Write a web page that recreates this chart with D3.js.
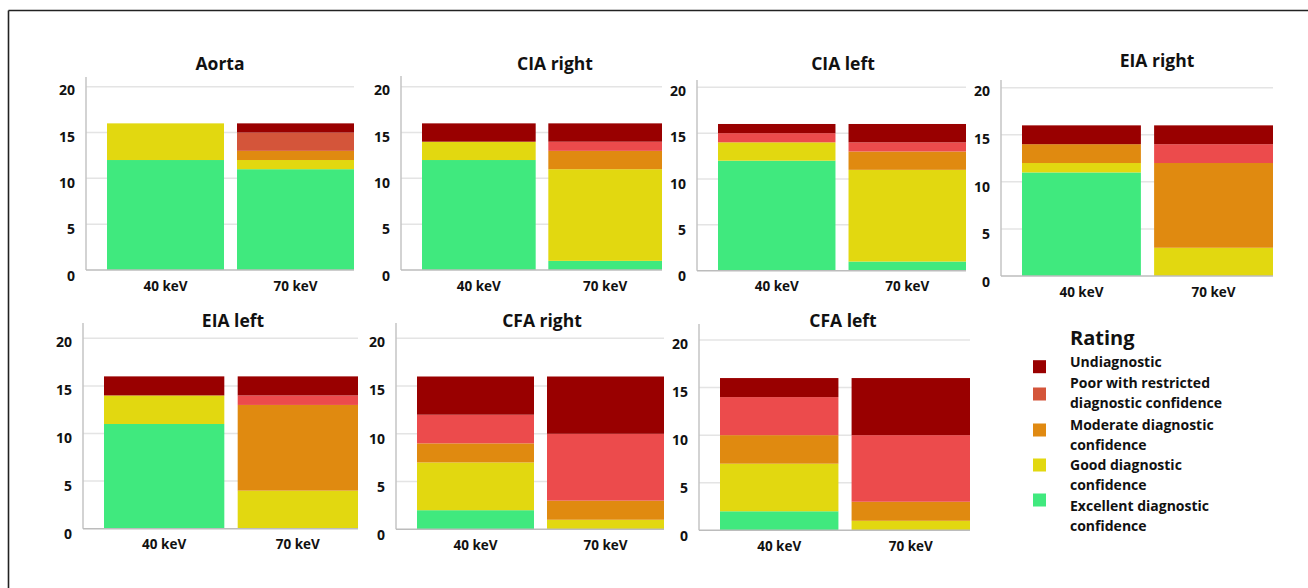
<!DOCTYPE html>
<html>
<head>
<meta charset="utf-8">
<script src="https://cdn.jsdelivr.net/npm/d3@7"></script>
<style>
  body { margin: 0; background: #fff; }
  svg text { font-family: "Open Sans", "Noto Sans", sans-serif; font-weight: 700; fill: #111; }
</style>
</head>
<body>
<svg id="chart" width="1308" height="588"></svg>
<script>
// data: counts per rating, [40 keV, 70 keV] for every vessel
const vessels = ["Aorta", "CIA right", "CIA left", "EIA right", "EIA left", "CFA right", "CFA left"];
const energies = ["40 keV", "70 keV"];
const ratings = ["Excellent", "Good", "Moderate", "Poor", "Undiagnostic"];
const excellent    = [[12, 11], [12, 1], [12, 1], [11, 0], [11, 0], [2, 0], [2, 0]];
const good         = [[4, 1], [2, 10], [2, 10], [1, 3], [3, 4], [5, 1], [5, 1]];
const moderate     = [[0, 1], [0, 2], [0, 2], [2, 9], [0, 9], [2, 2], [3, 2]];
const poor         = [[0, 2], [0, 1], [1, 1], [0, 2], [0, 1], [3, 7], [4, 7]];
const undiagnostic = [[0, 1], [2, 2], [1, 2], [2, 2], [2, 2], [4, 6], [2, 6]];
const yTicks = [0, 5, 10, 15, 20];
const legendLabels = [
  ["Undiagnostic"],
  ["Poor with restricted", "diagnostic confidence"],
  ["Moderate diagnostic", "confidence"],
  ["Good diagnostic", "confidence"],
  ["Excellent diagnostic", "confidence"]
];

const colors = {
  Excellent: "#40e97e",
  Good: "#e2d810",
  Moderate: "#e08a10",
  Poor: "#ec4b4c",
  Undiagnostic: "#990000"
};
const legendColors = ["#990000", "#d4553a", "#e08a12", "#e2d810", "#40e97e"];

// layout of each small panel (the figure is a pasted composite, so they don't line up exactly)
const layout = [
  {ax: 86,  right: 354,  bar0: 107,  y0: 270,   y20: 86.7,  top: 77,  tx: 220,  ty: 65},
  {ax: 401, right: 662,  bar0: 422,  y0: 270,   y20: 86.7,  top: 76,  tx: 555,  ty: 65},
  {ax: 697, right: 966,  bar0: 718,  y0: 270.7, y20: 87.3,  top: 80,  tx: 843,  ty: 65},
  {ax: 1001, right: 1273, bar0: 1022, y0: 276,  y20: 87.7,  top: 80,  tx: 1157, ty: 62},
  {ax: 83,  right: 358,  bar0: 104,  y0: 528.7, y20: 338.3, top: 323, tx: 233,  ty: 322},
  {ax: 396, right: 664,  bar0: 417,  y0: 529.3, y20: 338.3, top: 323, tx: 542,  ty: 322},
  {ax: 699, right: 970,  bar0: 720,  y0: 530.3, y20: 340,   top: 324, tx: 843,  ty: 322}
];

const svg = d3.select("#chart");

// outer frame (top and left edges only)
svg.append("line").attr("x1", 8.5).attr("x2", 1308).attr("y1", 10.5).attr("y2", 10.5)
  .attr("stroke", "#222").attr("stroke-width", 1.6);
svg.append("line").attr("x1", 8.5).attr("x2", 8.5).attr("y1", 10.5).attr("y2", 588)
  .attr("stroke", "#222").attr("stroke-width", 1.6);

const series = {Excellent: excellent, Good: good, Moderate: moderate, Poor: poor, Undiagnostic: undiagnostic};

vessels.forEach(function (name, i) {
  const L = layout[i];
  const rows = energies.map((e, j) => {
    const r = {energy: e};
    ratings.forEach(k => r[k] = series[k][i][j]);
    return r;
  });
  const stacked = d3.stack().keys(ratings)(rows);

  const y = d3.scaleLinear().domain([0, 20]).range([L.y0, L.y20]);
  const x = d3.scaleBand().domain(energies).range([L.bar0, L.right]).paddingInner(0.1).paddingOuter(0);

  const g = svg.append("g");

  // gridlines
  g.selectAll(".grid").data(yTicks.filter(t => t > 0)).join("line")
    .attr("x1", L.ax).attr("x2", L.right)
    .attr("y1", d => y(d)).attr("y2", d => y(d))
    .attr("stroke", "#e4e4e4").attr("stroke-width", 1.5);

  // bars
  g.selectAll(".layer").data(stacked).join("g")
    .attr("fill", d => (i === 0 && d.key === "Poor") ? "#d4553a" : colors[d.key])
    .selectAll("rect").data(d => d).join("rect")
    .attr("x", d => x(d.data.energy))
    .attr("width", x.bandwidth())
    .attr("y", d => y(d[1]))
    .attr("height", d => y(d[0]) - y(d[1]));

  // axes lines
  g.append("line").attr("x1", L.ax).attr("x2", L.ax).attr("y1", L.top).attr("y2", L.y0)
    .attr("stroke", "#c4c4c4").attr("stroke-width", 1.5);
  g.append("line").attr("x1", L.ax).attr("x2", L.right).attr("y1", L.y0).attr("y2", L.y0)
    .attr("stroke", "#bcbcbc").attr("stroke-width", 1.5);

  // tick labels
  g.selectAll(".ytick").data(yTicks).join("text")
    .attr("x", L.ax - 11)
    .attr("y", d => y(d) + 5 + (20 - d) * 0.1)
    .attr("text-anchor", "end")
    .attr("dominant-baseline", "middle")
    .style("font-size", "14px")
    .text(d => d);

  g.selectAll(".xtick").data(energies).join("text")
    .attr("x", d => x(d) + x.bandwidth() / 2 + (d === energies[0] ? 0 : 0))
    .attr("y", L.y0 + 17)
    .attr("text-anchor", "middle")
    .attr("dominant-baseline", "middle")
    .style("font-size", "13.5px")
    .text(d => d);

  g.append("text")
    .attr("x", L.tx).attr("y", L.ty)
    .attr("text-anchor", "middle")
    .attr("dominant-baseline", "middle")
    .style("font-size", "17.5px")
    .text(name);
});

// legend
const lg = svg.append("g");
lg.append("text").attr("x", 1070).attr("y", 340)
  .attr("dominant-baseline", "middle")
  .style("font-size", "20px").text("Rating");

const swatchY = [366.7, 394, 430, 465, 500];
const textY = [363.3, 384.3, 426, 466.7, 507.3];
legendLabels.forEach(function (lines, k) {
  lg.append("rect").attr("x", 1033).attr("y", swatchY[k] - 6.5)
    .attr("width", 13).attr("height", 13).attr("fill", legendColors[k]);
  lines.forEach(function (t, m) {
    lg.append("text").attr("x", 1070).attr("y", textY[k] + m * 20)
      .attr("dominant-baseline", "middle")
      .style("font-size", "14px").text(t);
  });
});
</script>
</body>
</html>
